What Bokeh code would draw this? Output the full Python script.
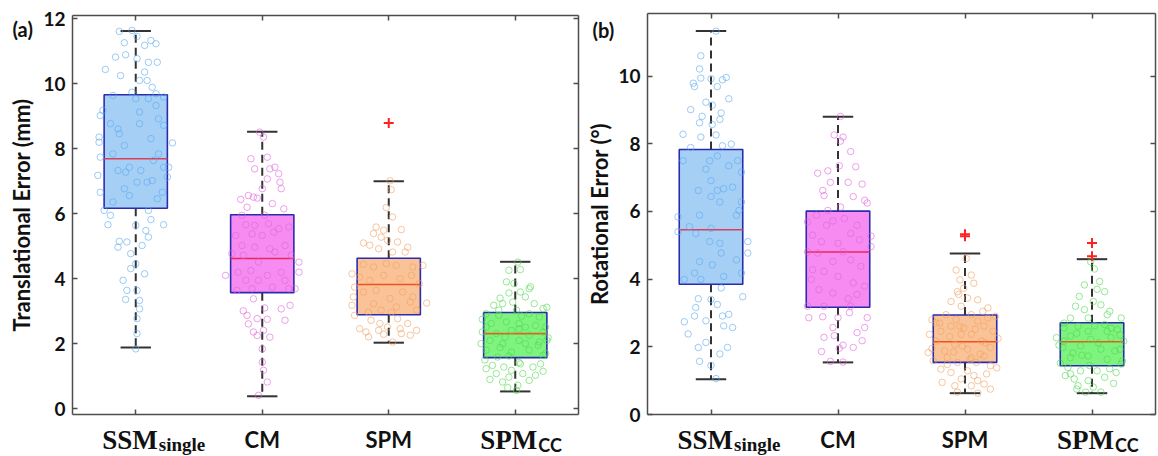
from bokeh.plotting import figure
from bokeh.models import LinearAxis, FixedTicker, Label, Range1d
from bokeh.layouts import row
from bokeh.embed import file_html
from bokeh.resources import INLINE

# ---------------- data ----------------
CATEGORIES = ["SSM", "CM", "SPM", "SPM"]
SUBSCRIPTS = ["single", "", "", "CC"]
POS = [1, 2, 3, 4]

TRANS_TICKS = [0, 2, 4, 6, 8, 10, 12]
ROT_TICKS = [0, 2, 4, 6, 8, 10]

# Panel (a) translational error box statistics (mm)
TRANS_Q1 = [6.17, 3.57, 2.89, 1.57]
TRANS_MED = [7.69, 4.62, 3.82, 2.31]
TRANS_Q3 = [9.66, 5.97, 4.63, 2.96]
TRANS_LO = [1.88, 0.38, 2.03, 0.53]
TRANS_HI = [11.62, 8.52, 7.00, 4.52]
TRANS_OUT_X = [3]
TRANS_OUT_Y = [8.79]

# Panel (b) rotational error box statistics (deg)
ROT_Q1 = [3.85, 3.17, 1.54, 1.44]
ROT_MED = [5.46, 4.80, 2.15, 2.15]
ROT_Q3 = [7.83, 6.01, 2.94, 2.71]
ROT_LO = [1.04, 1.54, 0.63, 0.63]
ROT_HI = [11.33, 8.80, 4.76, 4.59]
ROT_OUT_X = [3, 3, 4, 4]
ROT_OUT_Y = [5.27, 5.33, 5.07, 4.68]

# individual samples (value, horizontal jitter)
TRANS_SSM_Y = [11.61, 11.64, 11.26, 11.46, 11.18, 11.33, 11.23, 10.82, 10.89, 10.77,
               10.66, 10.66, 10.44, 10.25, 10.36, 10.10, 10.10, 9.89, 9.69, 9.74,
               9.64, 9.54, 9.54, 9.59, 9.18, 9.02, 9.13, 9.33, 8.92, 8.77,
               8.61, 8.77, 8.46, 8.72, 8.36, 8.20, 8.31, 8.18, 8.10, 7.84,
               7.84, 7.74, 7.64, 7.43, 7.33, 7.28, 7.33, 7.43, 7.18, 7.43,
               6.97, 6.97, 7.02, 7.13, 6.66, 6.66, 6.77, 6.56, 6.36, 6.46,
               6.10, 5.95, 6.10, 5.66, 5.64, 5.82, 5.66, 5.48, 5.28, 5.15,
               5.13, 4.97, 5.02, 4.77, 4.46, 4.31, 4.15, 3.95, 3.64, 3.64,
               3.36, 3.33, 3.07, 2.77, 2.31, 1.84]
TRANS_SSM_DX = [-0.13, -0.03, -0.09, 0.01, 0.07, 0.12, 0.16, -0.16, -0.08, 0.01,
                0.10, 0.17, -0.24, -0.12, 0.07, 0.03, 0.09, 0.13, 0.16, -0.03,
                -0.18, 0.0, 0.10, 0.22, -0.26, -0.28, 0.03, 0.16, 0.18, -0.20,
                -0.14, 0.03, -0.13, 0.22, -0.29, -0.29, 0.12, 0.29, -0.09, -0.18,
                0.18, -0.28, 0.14, 0.22, -0.14, -0.08, 0.04, 0.26, -0.30, -0.05,
                0.01, 0.09, 0.13, 0.25, 0.21, -0.28, -0.09, -0.05, -0.18, 0.17,
                -0.25, -0.20, 0.10, -0.22, 0.0, 0.12, 0.22, 0.08, 0.10, -0.13,
                -0.07, -0.14, 0.05, -0.04, 0.0, -0.04, 0.07, -0.10, -0.07, 0.01,
                -0.08, 0.03, 0.03, 0.01, 0.01, 0.0]

TRANS_CM_Y = [8.51, 8.36, 7.74, 7.69, 7.38, 7.38, 7.43, 7.23, 7.07, 6.97,
              6.77, 6.77, 6.56, 6.51, 6.48, 6.44, 6.31, 6.20, 6.15, 5.95,
              5.95, 5.66, 5.64, 5.69, 5.54, 5.59, 5.33, 5.38, 5.33, 5.43,
              5.02, 5.02, 4.97, 4.92, 4.77, 4.72, 4.82, 4.72, 4.51, 4.51,
              4.20, 4.25, 4.10, 4.20, 4.10, 4.20, 3.95, 3.95, 3.95, 3.64,
              3.69, 3.74, 3.69, 3.69, 3.38, 3.10, 3.01, 3.07, 3.18, 2.87,
              2.77, 2.72, 2.75, 2.61, 2.36, 2.41, 2.20, 2.25, 1.84, 1.43,
              1.18, 0.82, 0.41]
TRANS_CM_DX = [-0.02, 0.01, 0.04, -0.09, -0.06, 0.06, 0.10, 0.13, 0.04, 0.14,
               0.0, 0.15, -0.11, -0.07, -0.04, -0.17, 0.08, -0.12, 0.17, -0.16,
               0.02, -0.13, -0.06, 0.05, 0.13, 0.21, -0.21, -0.08, 0.0, 0.09,
               0.18, -0.16, -0.06, 0.06, -0.24, -0.15, 0.10, 0.23, -0.03, 0.29,
               -0.19, -0.09, 0.04, 0.15, -0.29, 0.29, -0.13, -0.03, 0.18, -0.20,
               -0.08, 0.08, 0.21, 0.26, -0.07, 0.02, -0.15, 0.15, 0.22, -0.12,
               -0.04, 0.18, 0.04, -0.11, -0.07, 0.01, 0.06, -0.04, 0.0, 0.0,
               0.01, 0.04, -0.03]

TRANS_SPM_Y = [7.01, 6.74, 6.19, 5.90, 5.59, 5.49, 5.51, 5.39, 5.28, 5.18,
               5.10, 5.13, 4.97, 5.03, 4.92, 4.82, 4.82, 4.15, 4.44, 4.36,
               4.46, 4.41, 4.36, 4.41, 4.05, 3.95, 4.10, 4.00, 4.10, 3.85,
               3.74, 3.59, 3.64, 3.39, 3.59, 3.44, 3.44, 3.25, 3.18, 3.23,
               3.13, 3.28, 3.03, 2.87, 2.97, 2.97, 3.03, 2.72, 2.62, 2.77,
               2.62, 2.46, 2.36, 2.41, 2.51, 2.46, 2.41, 2.21, 2.29, 2.31,
               2.26, 2.05]
TRANS_SPM_DX = [0.01, 0.02, -0.02, 0.03, -0.10, -0.04, 0.10, -0.12, -0.06, -0.01,
                -0.20, 0.07, 0.15, -0.15, -0.08, 0.03, 0.13, -0.29, -0.20, -0.12,
                -0.02, 0.06, 0.19, 0.27, -0.23, -0.15, -0.04, 0.09, 0.18, 0.24,
                -0.27, -0.20, -0.10, 0.01, 0.11, 0.19, -0.28, 0.30, -0.29, -0.12,
                0.06, 0.17, -0.06, -0.27, -0.16, 0.02, 0.22, -0.14, -0.07, 0.07,
                0.15, -0.23, -0.18, -0.08, -0.01, 0.09, 0.22, -0.16, -0.04, 0.10,
                0.17, 0.03]

TRANS_SPMCC_Y = [4.51, 4.28, 4.26, 3.90, 3.85, 3.69, 3.56, 3.59, 3.44, 3.18,
                 3.23, 3.23, 3.08, 2.92, 2.87, 3.03, 2.92, 2.82, 2.62, 2.67,
                 2.62, 2.56, 2.51, 2.36, 2.31, 2.41, 2.26, 2.36, 2.10, 2.00,
                 2.10, 1.95, 2.10, 1.80, 1.74, 1.80, 1.59, 1.64, 1.33, 1.28,
                 1.38, 1.28, 1.08, 0.97, 1.08, 1.03, 0.82, 0.72, 0.87, 0.56,
                 1.18, 1.23, 3.03, 2.51, 2.51, 1.38, 2.00, 2.00,
                 3.75, 3.40, 3.12, 2.75, 2.45, 2.20, 2.05, 1.88, 1.70, 1.50,
                 1.42, 1.15, 0.90, 0.65, 2.85, 2.18, 1.62, 3.28]
TRANS_SPMCC_DX = [0.02, 0.04, -0.05, -0.07, -0.01, 0.11, -0.05, 0.04, 0.08, -0.17,
                  -0.10, 0.15, 0.22, -0.23, -0.13, 0.01, 0.11, 0.19, -0.19, -0.07,
                  0.03, 0.16, 0.24, -0.26, -0.15, -0.03, 0.11, 0.22, -0.20, -0.10,
                  0.03, 0.18, 0.25, -0.23, -0.03, 0.11, -0.14, 0.22, -0.18, -0.09,
                  0.04, 0.14, -0.15, -0.05, 0.06, 0.16, -0.10, 0.02, 0.11, 0.01,
                  -0.03, -0.23, -0.13, 0.08, -0.23, 0.20, -0.27, 0.08,
                  0.12, -0.12, 0.25, -0.26, 0.03, -0.08, 0.19, -0.12, 0.24, -0.24,
                  0.03, 0.22, -0.20, -0.06, 0.05, 0.26, -0.05, -0.02]

ROT_SSM_Y = [11.33, 10.60, 10.21, 9.94, 9.92, 9.89, 9.96, 9.79, 9.69, 9.69,
             9.33, 9.23, 9.14, 9.01, 8.81, 8.91, 8.62, 8.72, 8.57, 8.28,
             8.20, 8.26, 7.89, 7.94, 7.99, 7.50, 7.50, 7.64, 7.50, 7.25,
             7.35, 7.16, 6.91, 6.62, 6.62, 6.72, 6.67, 6.28, 6.44, 6.28,
             5.84, 5.89, 5.89, 6.03, 5.40, 5.55, 5.50, 5.11, 5.35, 5.06,
             4.77, 4.52, 5.11, 4.77, 4.42, 4.57, 4.18, 4.08, 3.99, 3.99,
             4.18, 3.74, 3.48, 3.42, 3.16, 3.40, 3.25, 2.91, 2.77, 2.74,
             2.91, 2.96, 2.62, 2.38, 2.13, 2.57, 1.98, 1.98, 1.79, 1.57,
             1.45, 1.06]
ROT_SSM_DX = [0.04, -0.08, -0.09, -0.08, 0.0, 0.09, 0.12, -0.14, -0.13, 0.05,
              0.14, -0.04, 0.01, -0.16, -0.07, 0.08, -0.09, 0.07, 0.01, -0.22,
              -0.08, 0.04, -0.16, 0.09, 0.16, -0.22, -0.01, 0.05, 0.21, -0.04,
              0.14, 0.24, 0.0, -0.10, 0.05, 0.17, 0.10, 0.07, 0.0, 0.24,
              -0.26, -0.09, 0.20, 0.22, -0.26, -0.17, 0.0, 0.29, -0.12, 0.07,
              0.08, -0.09, -0.01, 0.29, 0.01, 0.20, -0.13, 0.10, -0.21, -0.08,
              0.24, 0.08, 0.25, -0.10, -0.12, 0.0, 0.05, -0.13, -0.04, -0.21,
              0.09, 0.14, 0.10, -0.18, -0.04, 0.17, -0.10, 0.13, 0.07, -0.09,
              0.0, 0.04]

ROT_CM_Y = [8.81, 8.26, 8.20, 8.08, 7.77, 7.13, 7.20, 7.32, 7.35, 6.86,
            6.62, 6.86, 6.44, 6.81, 6.47, 6.33, 6.25, 6.13, 6.03, 5.89,
            5.79, 5.69, 5.59, 5.59, 5.72, 5.35, 5.27, 5.30, 5.11, 5.06,
            5.16, 4.81, 4.77, 4.81, 4.96, 4.52, 4.57, 4.28, 4.23, 4.38,
            4.08, 3.89, 3.99, 3.69, 3.79, 3.59, 3.55, 3.42, 3.20, 3.20,
            3.20, 2.86, 2.89, 2.86, 3.01, 2.86, 2.57, 2.42, 2.57, 2.28,
            2.33, 2.18, 1.86, 1.96, 2.05, 1.98, 1.57, 1.55]
ROT_CM_DX = [0.02, -0.03, 0.04, 0.02, 0.10, -0.16, -0.08, 0.14, 0.01, -0.06,
             -0.12, 0.08, 0.12, 0.19, -0.11, 0.21, 0.23, 0.02, -0.08, -0.17,
             0.05, -0.24, -0.09, 0.15, -0.04, 0.10, 0.26, -0.20, -0.13, 0.0,
             0.17, -0.24, -0.16, 0.04, 0.26, -0.04, 0.10, -0.20, -0.11, 0.18,
             0.0, 0.12, -0.21, -0.15, 0.21, -0.04, 0.15, 0.08, -0.24, -0.11,
             0.10, -0.23, -0.12, 0.0, 0.09, 0.23, -0.04, 0.15, 0.21, -0.11,
             -0.03, 0.19, -0.13, 0.01, 0.04, 0.12, -0.06, 0.04]

ROT_SPM_Y = [3.98, 4.12, 3.73, 3.88, 3.63, 3.44, 3.34, 3.39, 3.20, 3.05,
             2.95, 2.95, 2.85, 2.71, 2.81, 2.76, 2.61, 2.56, 2.61, 2.46,
             2.37, 2.46, 2.37, 2.17, 2.07, 2.17, 1.98, 1.83, 1.88, 1.93,
             1.73, 1.59, 1.54, 1.54, 1.44, 1.34, 1.24, 1.29, 1.20, 1.05,
             1.00, 0.85, 0.85, 0.90, 0.66, 0.63, 1.68, 1.68, 2.37, 4.27,
             4.61,
             2.90, 2.70, 2.52, 2.30, 2.12, 2.02, 1.95, 1.78, 1.62, 1.48,
             1.38, 1.15, 0.95, 0.75, 2.60, 2.25, 1.85, 3.55, 3.15, 2.80]
ROT_SPM_DX = [-0.04, 0.05, -0.01, 0.07, -0.06, 0.02, -0.11, 0.10, -0.03, 0.14,
              -0.15, 0.05, 0.18, -0.23, -0.07, 0.10, -0.11, -0.01, 0.15, 0.22,
              -0.28, -0.19, 0.05, -0.23, -0.08, 0.13, 0.20, -0.29, -0.16, 0.02,
              0.15, -0.25, -0.06, 0.09, 0.20, -0.19, -0.11, 0.02, 0.17, -0.03,
              0.10, -0.08, 0.05, 0.15, -0.06, 0.10, -0.14, 0.05, -0.03, -0.07,
              0.01,
              0.24, -0.20, 0.08, -0.12, 0.16, -0.02, -0.26, 0.12, 0.04, -0.14,
              0.25, 0.07, -0.18, 0.20, -0.04, 0.26, -0.09, -0.05, 0.18, -0.26]

ROT_SPMCC_Y = [4.30, 4.51, 3.93, 3.83, 3.63, 3.49, 3.34, 3.24, 3.10, 3.05,
               2.85, 2.85, 2.85, 2.56, 2.61, 2.66, 2.51, 2.27, 2.32, 2.22,
               2.27, 2.17, 1.98, 2.03, 1.93, 1.93, 1.68, 1.73, 1.63, 1.49,
               1.39, 1.29, 1.29, 1.24, 1.05, 1.00, 1.10, 0.85, 0.81, 0.66,
               0.66, 2.17, 2.46, 2.46, 1.20,
               2.70, 2.55, 2.40, 2.12, 2.05, 1.88, 1.75, 1.58, 1.45, 1.35,
               1.15, 0.92, 0.75, 3.70, 3.20, 2.95, 2.35, 1.82, 1.52, 2.62]
ROT_SPMCC_DX = [0.02, -0.01, 0.06, -0.06, 0.10, -0.10, 0.01, 0.07, -0.06, 0.14,
                -0.17, -0.03, 0.23, -0.22, -0.11, 0.10, 0.20, -0.28, -0.17, -0.01,
                0.15, 0.25, -0.23, -0.09, 0.07, 0.22, -0.17, -0.03, 0.12, 0.23,
                -0.19, -0.09, 0.04, 0.19, -0.14, -0.03, 0.10, -0.11, 0.01, 0.07,
                -0.05, -0.22, 0.12, -0.03, -0.17,
                -0.22, 0.15, -0.12, 0.05, -0.26, 0.18, -0.08, 0.24, -0.02, 0.14,
                -0.21, 0.17, -0.12, 0.04, -0.13, 0.12, 0.22, -0.15, -0.25, 0.02]

# ---------------- style ----------------
BOX_FILL = ["#9ccaf5", "#f57ff0", "#f9bd8c", "#70f270"]
POINT_COLOR = ["#5aa8ee", "#e064dc", "#f0a060", "#52d852"]
MEDIAN_COLOR = ["#d8405a", "#e8285a", "#f05020", "#e06020"]
BOX_EDGE = "#2b2bb0"
AX = "#4d4d4d"
TXT = "#111111"
SANS = "Lato"
SERIF = "Liberation Serif"
FIG_H = 455


def style_axis(ax, ticks, bounds, loc, show_labels):
    ax.ticker = FixedTicker(ticks=ticks)
    ax.bounds = bounds
    ax.fixed_location = loc
    ax.major_tick_in = 5
    ax.major_tick_out = 0
    ax.minor_tick_line_color = None
    ax.axis_line_color = AX
    ax.axis_line_width = 1.5
    ax.major_tick_line_color = AX
    ax.major_tick_line_width = 1.5
    if show_labels:
        ax.major_label_text_font = SANS
        ax.major_label_text_font_style = "bold"
        ax.major_label_text_font_size = "19px"
        ax.major_label_text_color = TXT
        ax.major_label_standoff = 7
    else:
        ax.major_label_text_color = None
        ax.major_label_text_font_size = "1px"
        ax.major_label_standoff = 0


def make_panel(width, y_lo, y_hi, ticks, ylabel, panel_tag, q1, med, q3, lo, hi,
               out_x, out_y, groups, frame_l, frame_r, frame_t, frame_b,
               label_standoff, tag_dx, tag_dy):
    # frame_* : pixel position of the drawn box inside this canvas
    xs_per_px = 4.0 / (frame_r - frame_l)
    ys_per_px = (y_hi - y_lo) / (frame_b - frame_t)
    x_range = Range1d(0.5 - frame_l * xs_per_px, 4.5 + (width - frame_r) * xs_per_px)
    y_range = Range1d(y_lo - (FIG_H - frame_b) * ys_per_px, y_hi + frame_t * ys_per_px)

    p = figure(width=width, height=FIG_H, x_range=x_range, y_range=y_range,
               output_backend="svg", toolbar_location=None,
               min_border=0)
    p.xgrid.visible = False
    p.ygrid.visible = False
    p.outline_line_color = None
    p.background_fill_color = "white"
    p.border_fill_color = "white"

    style_axis(p.yaxis[0], ticks, (y_lo, y_hi), 0.5, True)
    p.yaxis.axis_label = ylabel
    p.yaxis.axis_label_text_font = SANS
    p.yaxis.axis_label_text_font_style = "bold"
    p.yaxis.axis_label_text_font_size = "22px"
    p.yaxis.axis_label_text_color = TXT
    p.yaxis.axis_label_standoff = label_standoff
    style_axis(p.xaxis[0], POS, (0.5, 4.5), y_lo, False)

    right = LinearAxis()
    style_axis(right, ticks, (y_lo, y_hi), 4.5, False)
    p.add_layout(right, "right")
    top = LinearAxis()
    style_axis(top, POS, (0.5, 4.5), y_hi, False)
    p.add_layout(top, "above")

    # whiskers
    p.segment(x0=POS, y0=q3, x1=POS, y1=hi, line_color="#333333", line_width=2,
              line_dash="8 5")
    p.segment(x0=POS, y0=q1, x1=POS, y1=lo, line_color="#333333", line_width=2,
              line_dash="8 5")
    cap_l = [x - 0.12 for x in POS]
    cap_r = [x + 0.12 for x in POS]
    p.segment(x0=cap_l, y0=hi, x1=cap_r, y1=hi, line_color="#333333", line_width=2)
    p.segment(x0=cap_l, y0=lo, x1=cap_r, y1=lo, line_color="#333333", line_width=2)

    # boxes
    p.vbar(x=POS, width=0.5, bottom=q1, top=q3, fill_color=BOX_FILL,
           fill_alpha=0.9, line_color=BOX_EDGE, line_width=1.6)
    p.segment(x0=[x - 0.25 for x in POS], y0=med, x1=[x + 0.25 for x in POS],
              y1=med, line_color=MEDIAN_COLOR, line_width=1.6)

    # samples
    for i, (vals, dxs) in enumerate(groups):
        p.scatter(x=[POS[i] + d for d in dxs], y=vals, marker="circle", size=6.5,
                  fill_color=None, line_color=POINT_COLOR[i], line_alpha=0.6,
                  line_width=1)

    # outliers
    p.scatter(x=out_x, y=out_y, marker="cross", size=10, line_color="#ff2020",
              line_width=2)

    # category labels with subscripts
    for i, (main, sub) in enumerate(zip(CATEGORIES, SUBSCRIPTS)):
        if sub:
            p.add_layout(Label(x=POS[i], y=y_lo, x_offset=22, y_offset=-25,
                               text=main, text_align="right",
                               text_baseline="alphabetic", text_font=SERIF,
                               text_font_style="bold", text_font_size="27px",
                               text_color=TXT))
            sub_font = SERIF if sub == "single" else SANS
            sub_size = "19px" if sub == "single" else "18px"
            p.add_layout(Label(x=POS[i], y=y_lo, x_offset=23, y_offset=-30,
                               text=sub, text_align="left",
                               text_baseline="alphabetic", text_font=sub_font,
                               text_font_style="bold", text_font_size=sub_size,
                               text_color=TXT))
        else:
            p.add_layout(Label(x=POS[i], y=y_lo, y_offset=-25, text=main,
                               text_align="center", text_baseline="alphabetic",
                               text_font=SANS, text_font_style="bold",
                               text_font_size="22px", text_color=TXT))

    p.add_layout(Label(x=0.5, y=y_hi, x_offset=tag_dx, y_offset=tag_dy,
                       text=panel_tag, text_align="left",
                       text_baseline="alphabetic", text_font=SANS,
                       text_font_style="bold", text_font_size="20px",
                       text_color=TXT))
    return p


# panel (a): canvas page x 0..582; drawn box at page x 72..578, y 15..414
p1 = make_panel(582, -0.18, 12.1, TRANS_TICKS, "Translational Error (mm)", "(a)",
                TRANS_Q1, TRANS_MED, TRANS_Q3, TRANS_LO, TRANS_HI,
                TRANS_OUT_X, TRANS_OUT_Y,
                [(TRANS_SSM_Y, TRANS_SSM_DX), (TRANS_CM_Y, TRANS_CM_DX),
                 (TRANS_SPM_Y, TRANS_SPM_DX), (TRANS_SPMCC_Y, TRANS_SPMCC_DX)],
                72, 578, 15, 414, 5, -60, -13)
# panel (b): canvas page x 582..1157; drawn box at page x 647..1155, y 13..414
p2 = make_panel(575, 0.0, 11.85, ROT_TICKS, "Rotational Error (°)", "(b)",
                ROT_Q1, ROT_MED, ROT_Q3, ROT_LO, ROT_HI,
                ROT_OUT_X, ROT_OUT_Y,
                [(ROT_SSM_Y, ROT_SSM_DX), (ROT_CM_Y, ROT_CM_DX),
                 (ROT_SPM_Y, ROT_SPM_DX), (ROT_SPMCC_Y, ROT_SPMCC_DX)],
                65, 573, 13, 414, 2, -55, -16)

layout = row(p1, p2)
open("out.html", "w").write(file_html(layout, INLINE))
